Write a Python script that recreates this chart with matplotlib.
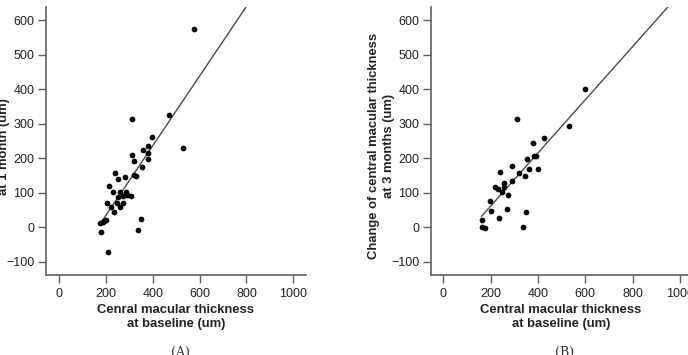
import numpy as np
import matplotlib.pyplot as plt

plt.rcParams['font.family'] = ['Liberation Sans', 'DejaVu Sans']

# Panel A: change at 1 month vs baseline thickness (um)
a_x = [575, 312, 468, 531, 396, 381, 360, 381, 381, 310, 321, 356, 322, 328,
       239, 253, 280, 215, 232, 260, 286, 253, 274, 289, 308, 206, 246, 274,
       221, 260, 235, 201, 192, 175, 186, 178, 350, 339, 211]
a_y = [573, 312, 324, 230, 260, 236, 223, 214, 196, 209, 191, 175, 150, 147,
       157, 139, 146, 119, 101, 103, 101, 86, 90, 92, 90, 70, 69, 69,
       57, 59, 44, 22, 18, 12, 14, -15, 24, -8, -72]
a_fit = (1.01, -168.0)  # slope, intercept

# Panel B: change at 3 months vs baseline thickness (um)
b_x = [312, 530, 424, 378, 383, 394, 355, 361, 401, 291, 241, 320, 346, 289,
       255, 258, 218, 230, 247, 272, 197, 200, 268, 349, 237, 166, 162, 176,
       338, 597]
b_y = [313, 293, 258, 245, 206, 206, 196, 169, 167, 178, 159, 157, 149, 134,
       129, 117, 115, 111, 102, 93, 75, 46, 52, 45, 27, 20, 1, -2,
       1, 401]
b_fit = (0.772, -94.0)

panels = [
    (a_x, a_y, a_fit, "Cenral macular thickness\nat baseline (um)",
     "Change of central macular thickness\nat 1 month (um)", "(A)"),
    (b_x, b_y, b_fit, "Central macular thickness\nat baseline (um)",
     "Change of central macular thickness\nat 3 months (um)", "(B)"),
]
rects = [[0.0669, 0.2262, 0.3775, 0.754], [0.6265, 0.2262, 0.3775, 0.754]]
xlims = [(-55.5, 1053), (-51, 1045)]

fig = plt.figure(figsize=(6.88, 3.55), dpi=100)
spine_col = "#606060"

for (xs, ys, fit, xlab, ylab, cap), rect, xl in zip(panels, rects, xlims):
    ax = fig.add_axes(rect)
    ax.scatter(xs, ys, s=17, color="black", linewidths=0, zorder=3)
    lx = np.array([min(xs), 1000])
    ax.plot(lx, fit[0] * lx + fit[1], color="#4a4a4a", lw=1.0, zorder=2)
    ax.set_xlim(*xl)
    ax.set_ylim(-138, 638)
    ax.set_xticks([0, 200, 400, 600, 800, 1000])
    ax.set_yticks([-100, 0, 100, 200, 300, 400, 500, 600])
    for s in ["top", "right"]:
        ax.spines[s].set_visible(False)
    for s in ["left", "bottom"]:
        ax.spines[s].set_color(spine_col)
        ax.spines[s].set_linewidth(1.2)
    ax.tick_params(direction="out", length=5.5, width=1.0, color=spine_col,
                   labelsize=9, labelcolor="#222222", pad=3)
    ax.tick_params(axis="x", pad=3.8)
    ax.set_xlabel(xlab, fontsize=9.4, fontweight="bold", color="#222222",
                  linespacing=1.3, labelpad=3)
    ax.set_ylabel(ylab, fontsize=9.4, fontweight="bold", color="#222222",
                  linespacing=1.3)
    ax.yaxis.set_label_coords(-0.14, 0.48)
    cx = rect[0] + rect[2] / 2
    fig.text(cx + 0.006, 0.008, cap, ha="center", va="center",
             family="DejaVu Serif", fontsize=9, color="#333333")

fig.savefig("out.png", dpi=100)
